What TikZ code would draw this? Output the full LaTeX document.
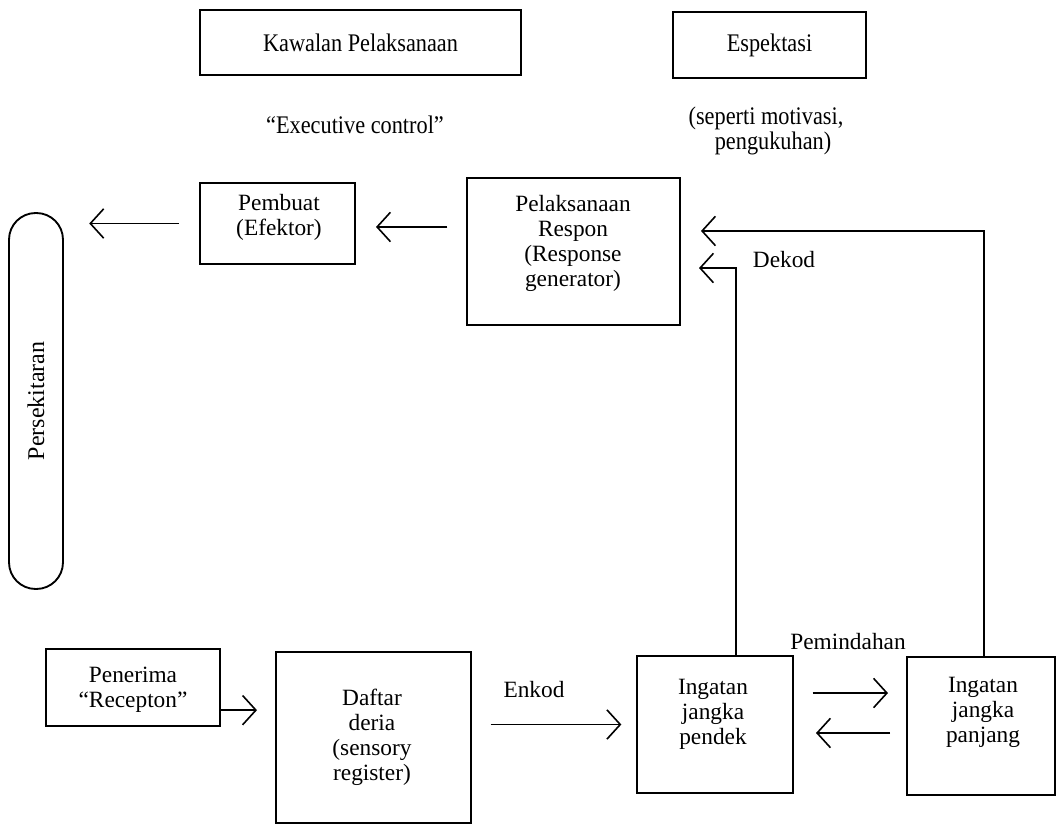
\documentclass[tikz,border=0pt]{standalone}
\usepackage{fontspec}
\setmainfont{Liberation Serif}
\usetikzlibrary{arrows.meta,calc}
\newdimen\pxu \pxu=0.75pt
\begin{document}
\begin{tikzpicture}[x=0.75pt,y=-0.75pt,
  box/.style={draw, line width=1.5pt, inner sep=0pt},
  lbl/.style={font=\fontsize{17.5}{18.8}\selectfont, align=center, inner sep=0pt},
  toplbl/.style={font=\fontsize{19}{16.5}\selectfont, align=center, inner sep=0pt, xscale=0.88},
  arr/.style={line width=1.2pt, -{Straight Barb[length=10pt,width=22pt,line width=1.2pt]}},
  wire/.style={line width=1.2pt}]
\useasboundingbox (0,0) rectangle (1057,827);
% top boxes
\node[box, minimum width=321\pxu, minimum height=65\pxu] (kawalan) at (360.5,42.5) {};
\node[toplbl] (kawalanT) at (kawalan) {Kawalan Pelaksanaan};
\node[box, minimum width=193\pxu, minimum height=66\pxu] (espek) at (769.5,45) {};
\node[toplbl] (espekT) at (espek) {Espektasi};
\node[toplbl] (exec) at (355,125) {``Executive control''};
\node[toplbl] (seperti) at (766,131) {(seperti motivasi,\\ \hspace*{12pt}pengukuhan)};
% middle row
\node[box, minimum width=155\pxu, minimum height=81\pxu] (pembuat) at (277.5,223.5) {};
\node[lbl] (pembuatT) at (279,217.5) {Pembuat\\(Efektor)};
\node[box, minimum width=213\pxu, minimum height=147\pxu] (pelaks) at (573.5,251.5) {};
\node[lbl, font=\fontsize{17.5}{18.6}\selectfont] (pelaksT) at (573,243.5) {Pelaksanaan\\Respon\\(Response\\generator)};
\node[box, line width=1.4pt, minimum width=54\pxu, minimum height=376\pxu, rounded corners=20pt] (persek) at (36,401)
  {\fontsize{18}{18.8}\selectfont\rotatebox{90}{Persekitaran}};
% bottom row
\node[box, minimum width=174\pxu, minimum height=77\pxu] (penerima) at (133,687.5) {};
\node[lbl] (penerimaT) at (133,689.5) {Penerima\\``Recepton''};
\node[box, minimum width=195\pxu, minimum height=171\pxu] (daftar) at (373.5,737.5) {};
\node[lbl] (daftarT) at (372,737.5) {Daftar\\deria\\(sensory\\register)};
\node[box, minimum width=156\pxu, minimum height=137\pxu] (short) at (715,724.5) {};
\node[lbl] (shortT) at (713,714) {Ingatan\\jangka\\pendek};
\node[box, minimum width=148\pxu, minimum height=138\pxu] (long) at (981,726) {};
\node[lbl] (longT) at (983,712) {Ingatan\\jangka\\panjang};
% labels
\node[lbl] (enkod) at (534,690) {Enkod};
\node[lbl] (dekod) at (784,260) {Dekod};
\node[lbl] (pemindahan) at (848,642) {Pemindahan};
% connectors
\draw[arr, shorten <=14pt, shorten >=15pt] ([yshift=-2.6pt]pelaks.west |- pembuat.east) -- ([yshift=-2.6pt]pembuat.east);
\draw[arr, shorten <=15pt, shorten >=19pt] (pembuat.west) -- (pembuat.west -| persek.east);
\coordinate (pe) at ([yshift=-17pt]penerima.east);
\draw[arr, shorten >=13.5pt] (pe) -- (pe -| daftar.west);
\draw[arr, shorten <=14pt, shorten >=11pt] (daftar.east |- short.west) -- (short.west);
\draw[arr, shorten <=14pt, shorten >=13.5pt] ([yshift=23.6pt]short.east) -- ([yshift=23.6pt]short.east -| long.west);
\draw[arr, shorten <=12pt, shorten >=16.5pt] ([yshift=-5.25pt]long.west) -- ([yshift=-5.25pt]long.west -| short.east);
\draw[arr, shorten >=13.5pt] ([xshift=15.75pt]short.north) |- ([yshift=-12.4pt]pelaks.east);
\draw[arr, shorten >=15pt] ([xshift=2.25pt]long.north) |- ([yshift=15.4pt]pelaks.east);
\end{tikzpicture}
\end{document}
